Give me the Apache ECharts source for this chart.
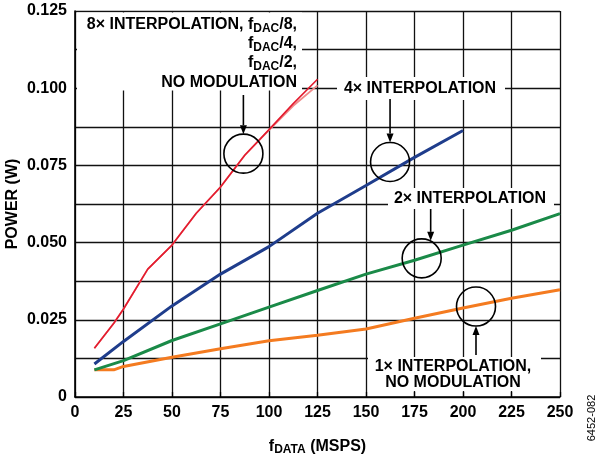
<!DOCTYPE html>
<html>
<head>
<meta charset="utf-8">
<script src="https://cdn.jsdelivr.net/npm/echarts@6/dist/echarts.min.js"></script>
<style>
html,body{margin:0;padding:0;background:#fff;}
#main{width:600px;height:457px;}
</style>
</head>
<body>
<div id="main"></div>
<script>
// ---- data ----
const xTicks = [0, 25, 50, 75, 100, 125, 150, 175, 200, 225, 250];
const yTickLabels = ['0', '0.025', '0.050', '0.075', '0.100', '0.125'];

const x8 = [10, 20, 25, 37.5, 50, 62.5, 75, 87.5, 100, 112.5, 125];
const p8 = [0.0158, 0.0239, 0.0285, 0.0414, 0.0492, 0.0595, 0.068, 0.0783, 0.0866, 0.0950, 0.1029];
const p8b = [0.0158, 0.0239, 0.0285, 0.0414, 0.0492, 0.0595, 0.068, 0.0783, 0.0864, 0.0943, 0.1009];

const x4 = [10, 25, 50, 75, 100, 125, 150, 175, 200];
const p4 = [0.0107, 0.0180, 0.0295, 0.0398, 0.0487, 0.0595, 0.0685, 0.0776, 0.0863];

const x2 = [10, 25, 50, 75, 100, 125, 150, 175, 200, 225, 250];
const p2 = [0.0088, 0.0118, 0.0183, 0.0237, 0.0291, 0.0345, 0.0398, 0.0443, 0.0492, 0.0540, 0.0594];

const x1 = [10, 20, 25, 50, 75, 100, 125, 150, 175, 200, 225, 250];
const p1 = [0.0088, 0.0088, 0.0099, 0.0129, 0.0156, 0.0182, 0.0200, 0.0220, 0.0255, 0.0288, 0.0320, 0.0347];

// annotation circle centres (data coordinates)
const c8 = [86.8, 0.0788];
const c4 = [162.4, 0.0761];
const c2 = [178.7, 0.0449];
const c1 = [206.7, 0.0293];

function pairs(xs, ys){ return xs.map((x,i)=>[x, ys[i]]); }

const FONT = '"Liberation Sans", Arial, Helvetica, sans-serif';
const chart = echarts.init(document.getElementById('main'), null, {renderer:'canvas'});

const lineStyleGrid = {color:'#111', width:1.3};

const option = {
  animation:false,
  backgroundColor:'#fff',
  grid:{left:75, right:40, top:11, bottom:60, show:false, containLabel:false, outerBoundsMode:'none'},
  xAxis:{
    type:'value', min:0, max:250, interval:25,
    axisLine:{show:true, onZero:false, lineStyle:{color:'#000', width:1.6}},
    axisTick:{show:true, inside:true, length:5, lineStyle:{color:'#000', width:1.3}},
    splitLine:{show:true, lineStyle:lineStyleGrid},
    axisLabel:{color:'#000', fontFamily:FONT, fontWeight:'bold', fontSize:16, margin:8},
    name:'f{s|DATA} (MSPS)',
    nameLocation:'middle', nameGap:40,
    nameTextStyle:{color:'#000', fontFamily:FONT, fontWeight:'bold', fontSize:16,
      rich:{s:{fontFamily:FONT, fontWeight:'bold', fontSize:12, padding:[7,0,0,0], color:'#000'}}}
  },
  yAxis:{
    type:'value', min:0, max:0.125, interval:0.0125,
    axisLine:{show:true, onZero:false, lineStyle:{color:'#000', width:1.6}},
    axisTick:{show:false},
    splitLine:{show:true, lineStyle:lineStyleGrid},
    axisLabel:{color:'#000', fontFamily:FONT, fontWeight:'bold', fontSize:16, margin:8,
      formatter:function(v, i){ return (i % 2) ? '' : yTickLabels[i/2]; }},
    name:'POWER (W)', nameLocation:'middle', nameGap:54, nameRotate:90, nameMoveOverlap:false,
    nameTextStyle:{color:'#000', fontFamily:FONT, fontWeight:'bold', fontSize:16}
  },
  series:[
    {type:'line', data:pairs(x1,p1), symbol:'none', lineStyle:{color:'#F47B20', width:3}, z:3},
    {type:'line', data:pairs(x2,p2), symbol:'none', lineStyle:{color:'#1A8A48', width:3}, z:3},
    {type:'line', data:pairs(x4,p4), symbol:'none', lineStyle:{color:'#1F3D8C', width:3}, z:3},
    {type:'line', data:pairs(x8,p8b), symbol:'none', lineStyle:{color:'#F08A8A', width:1.8}, z:3},
    {type:'line', data:pairs(x8,p8), symbol:'none', lineStyle:{color:'#E31B2E', width:1.6}, z:4}
  ]
};
chart.setOption(option);

function P(d){ return chart.convertToPixel({gridIndex:0}, d); }
const R = 19.5;
const g = [];
const txt = (text, x, y, align) => ({
  type:'text', z:100,
  style:{text:text, x:x, y:y, align:align||'center', verticalAlign:'middle',
    font:'bold 16px ' + FONT, fill:'#000',
    rich:{s:{font:'bold 12px ' + FONT, fill:'#000', padding:[7,0,0,0]}}}
});

function circle(c){ g.push({type:'circle', z:101, shape:{cx:c[0], cy:c[1], r:R}, style:{fill:null, stroke:'#000', lineWidth:1.6}}); }
function arrow(x, y0, y1){
  const dir = y1 > y0 ? 1 : -1;
  const hl = 9;
  g.push({type:'line', z:101, shape:{x1:x, y1:y0, x2:x, y2:y1 - dir*hl}, style:{stroke:'#000', lineWidth:1.6}});
  g.push({type:'polygon', z:101, shape:{points:[[x-3.5, y1 - dir*hl],[x+3.5, y1 - dir*hl],[x, y1]]}, style:{fill:'#000'}});
}

// white boxes
const pc8 = P(c8), pc4 = P(c4), pc2 = P(c2), pc1 = P(c1);
g.push({type:'rect', z:99, shape:{x:77, y:12.5, width:225, height:78}, style:{fill:'#fff'}});
g.push({type:'rect', z:99, shape:{x:337, y:77, width:168, height:23}, style:{fill:'#fff'}});
g.push({type:'rect', z:99, shape:{x:388, y:188, width:166, height:21}, style:{fill:'#fff'}});
g.push({type:'rect', z:99, shape:{x:368, y:357, width:173, height:34}, style:{fill:'#fff'}});

// 8x label
g.push(txt('8× INTERPOLATION, f{s|DAC}/8,', 297, 25, 'right'));
g.push(txt('f{s|DAC}/4,', 297, 44, 'right'));
g.push(txt('f{s|DAC}/2,', 297, 63, 'right'));
g.push(txt('NO MODULATION', 297, 82.5, 'right'));
// 4x
g.push(txt('4× INTERPOLATION', 420, 88.5, 'center'));
// 2x
g.push(txt('2× INTERPOLATION', 470, 198.5, 'center'));
// 1x
g.push(txt('1× INTERPOLATION,', 453, 366.5, 'center'));
g.push(txt('NO MODULATION', 453, 382.5, 'center'));

circle(pc8); circle(pc4); circle(pc2); circle(pc1);
arrow(pc8[0], 95, pc8[1]-R);
arrow(pc4[0], 99, pc4[1]-R);
arrow(pc2[0]+9, 209, pc2[1]-R+2);
arrow(pc1[0], 355, pc1[1]+R);

// figure id
g.push({type:'text', z:100, rotation:Math.PI/2, x:592, y:418,
  style:{text:'6452-082', x:0, y:0, align:'center', verticalAlign:'middle', font:'11px ' + FONT, fill:'#000'}});

chart.setOption({graphic:{elements:g}});
</script>
</body>
</html>
